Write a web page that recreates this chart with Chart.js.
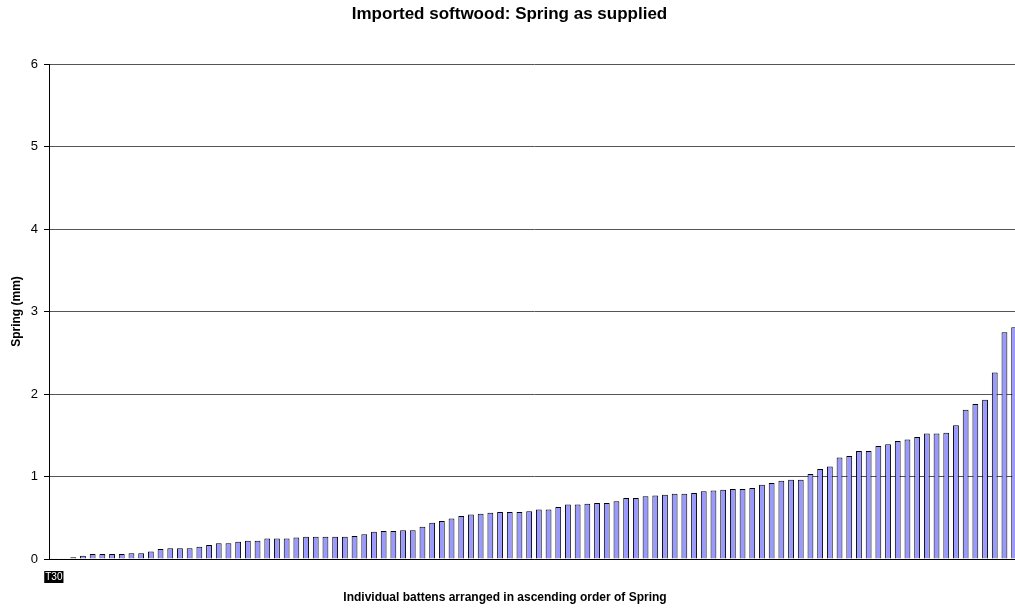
<!DOCTYPE html>
<html>
<head>
<meta charset="utf-8">
<title>Imported softwood: Spring as supplied</title>
<style>
  html, body { margin: 0; padding: 0; background: #ffffff; overflow: hidden; }
  #wrap { width: 1030px; height: 609px; }
</style>
<script src="https://cdn.jsdelivr.net/npm/chart.js@4.4.0/dist/chart.umd.min.js"></script>
</head>
<body>
<div id="wrap"><canvas id="chart" width="1030" height="609"></canvas></div>
<script>
// Spring of each batten (mm), sorted ascending
const springMm = [
  0.01, 0.01, 0.02, 0.04, 0.06, 0.06, 0.06, 0.06, 0.07, 0.07,
  0.09, 0.12, 0.13, 0.13, 0.13, 0.15, 0.17, 0.19, 0.19, 0.21,
  0.22, 0.22, 0.25, 0.25, 0.25, 0.26, 0.27, 0.27, 0.27, 0.27,
  0.27, 0.28, 0.30, 0.33, 0.34, 0.34, 0.35, 0.35, 0.39, 0.44,
  0.46, 0.49, 0.52, 0.54, 0.55, 0.56, 0.57, 0.57, 0.57, 0.58,
  0.60, 0.60, 0.63, 0.66, 0.66, 0.67, 0.68, 0.68, 0.70, 0.74,
  0.74, 0.76, 0.77, 0.78, 0.79, 0.79, 0.80, 0.82, 0.83, 0.84,
  0.85, 0.85, 0.86, 0.90, 0.92, 0.95, 0.96, 0.96, 1.03, 1.09,
  1.12, 1.23, 1.25, 1.31, 1.31, 1.37, 1.39, 1.43, 1.45, 1.48,
  1.52, 1.52, 1.53, 1.62, 1.81, 1.88, 1.93, 2.26, 2.75, 2.81
];

// Batten identifiers shown on the category axis
const battenIds = ['T30'];

// Value axis ticks (mm)
const yTicks = [0, 1, 2, 3, 4, 5, 6];

const categories = springMm.map((_, i) => battenIds[i] || '');

const FONT = 'Arial, "Liberation Sans", Helvetica, sans-serif';
const X_TITLE = 'Individual battens arranged in ascending order of Spring';

// Category-axis title, placed a little left of the plot centre
const xTitlePlugin = {
  id: 'xTitle',
  afterDraw(chart) {
    const ctx = chart.ctx;
    ctx.save();
    ctx.font = 'bold 12px ' + FONT;
    ctx.fillStyle = '#000000';
    ctx.textAlign = 'center';
    ctx.textBaseline = 'middle';
    ctx.fillText(X_TITLE, 505, 598);
    ctx.restore();
  }
};

new Chart(document.getElementById('chart'), {
  type: 'bar',
  data: {
    labels: categories,
    datasets: [{
      data: springMm,
      backgroundColor: '#9999FF',
      borderColor: '#000000',
      borderWidth: 1,
      categoryPercentage: 1.0,
      barPercentage: 0.6
    }]
  },
  plugins: [xTitlePlugin],
  options: {
    responsive: false,
    animation: false,
    events: [],
    layout: { padding: { top: 0, left: 0, right: 11, bottom: 0 } },
    plugins: {
      legend: { display: false },
      tooltip: { enabled: false },
      title: {
        display: true,
        text: 'Imported softwood: Spring as supplied',
        color: '#000000',
        font: { family: FONT, size: 17, weight: 'bold' },
        padding: { top: 4, bottom: 39.6 }
      }
    },
    scales: {
      x: {
        type: 'category',
        grid: { display: false, drawTicks: false },
        border: { display: true, color: '#000000', width: 1 },
        ticks: {
          autoSkip: false,
          maxRotation: 0,
          minRotation: 0,
          padding: 12,
          color: '#ffffff',
          font: { family: FONT, size: 10 },
          showLabelBackdrop: (ctx) => ctx.index === 0,
          backdropColor: '#000000',
          backdropPadding: { top: 0, bottom: 0, left: 1, right: 1 }
        },
        title: { display: false },
        afterFit: (scale) => { scale.height = 50; }
      },
      y: {
        min: yTicks[0],
        max: yTicks[yTicks.length - 1],
        afterBuildTicks: (scale) => { scale.ticks = yTicks.map(v => ({ value: v })); },
        grid: {
          color: '#555555',
          lineWidth: 1,
          drawTicks: true,
          tickLength: 5,
          tickColor: '#000000'
        },
        border: { display: true, color: '#000000', width: 1 },
        ticks: {
          color: '#000000',
          padding: 6,
          font: { family: FONT, size: 13 }
        },
        title: {
          display: true,
          text: 'Spring (mm)',
          color: '#000000',
          font: { family: FONT, size: 12, weight: 'bold' },
          padding: { top: 9, bottom: 0 }
        },
        afterFit: (scale) => { scale.width = 49; }
      }
    }
  }
});
</script>
</body>
</html>
